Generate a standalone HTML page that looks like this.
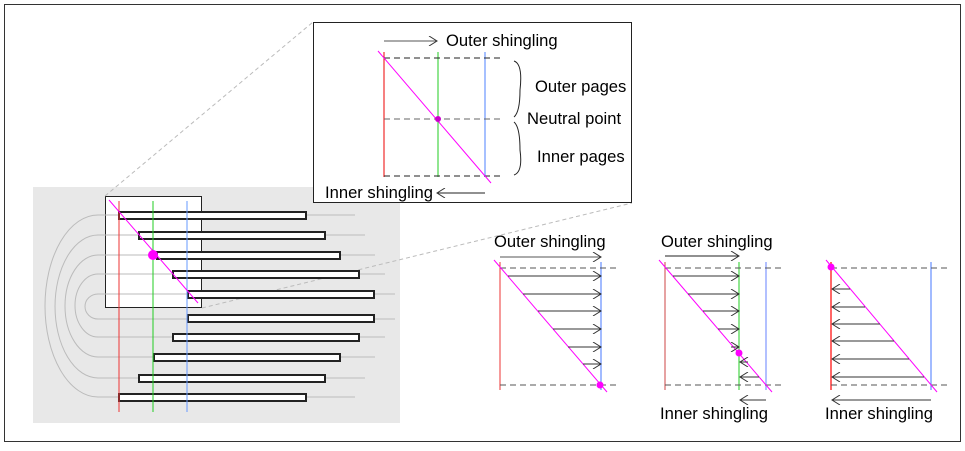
<!DOCTYPE html>
<html><head><meta charset="utf-8"><style>
body{margin:0;background:#fff}
text{font-family:"Liberation Sans",sans-serif;font-size:16.6px;fill:#000}
</style></head><body>
<svg width="965" height="446" viewBox="0 0 965 446">
<defs>
<marker id="ah" markerWidth="10" markerHeight="10" refX="9" refY="5" orient="auto" markerUnits="userSpaceOnUse">
<polyline points="1,0 9,5 1,10" fill="none" stroke="#333" stroke-width="1"/>
</marker>
</defs>
<rect x="4.5" y="4.5" width="956" height="437" fill="#fff" stroke="#333"/>
<rect x="33" y="187" width="367" height="236" fill="#e8e8e8"/>
<rect x="105.5" y="196.5" width="96" height="111" fill="#fff" stroke="#222"/>
<line x1="105" y1="196" x2="313" y2="22" stroke="#bbb" stroke-dasharray="4,3"/>
<line x1="202" y1="308" x2="632" y2="203" stroke="#bbb" stroke-dasharray="4,3"/>
<g fill="none" stroke="#bbb" stroke-width="1">
<path d="M188 294 H98 A13 12.5 0 0 0 98 319 H188"/>
<path d="M173 274 H98 A23 31.5 0 0 0 98 337 H173"/>
<path d="M155 255 H98 A33 51 0 0 0 98 357 H154"/>
<path d="M139 235 H98 A43 71.5 0 0 0 98 378 H139"/>
<path d="M119 215 H98 A53 91 0 0 0 98 397 H119"/>
<path d="M306 215H355M325 235H365M340 255H375M359 274H385M374 294H395M374 319H395M359 337H385M340 357H375M325 378H365M306 397H355"/>
</g>
<g fill="#fff" stroke="#222" stroke-width="2">
<rect x="119" y="212" width="187" height="7"/><rect x="139" y="232" width="186" height="7"/>
<rect x="157" y="252" width="183" height="7"/><rect x="173" y="271" width="186" height="7"/>
<rect x="188" y="291" width="186" height="7"/><rect x="188" y="315" width="186" height="7"/>
<rect x="173" y="334" width="186" height="7"/><rect x="154" y="354" width="186" height="7"/>
<rect x="139" y="375" width="186" height="7"/><rect x="119" y="394" width="187" height="7"/>
</g>
<line x1="119" y1="201" x2="119" y2="412" stroke="#e33"/>
<line x1="153" y1="201" x2="153" y2="412" stroke="#2c2"/>
<line x1="187" y1="201" x2="187" y2="412" stroke="#69f"/>
<line x1="109" y1="200" x2="198" y2="303" stroke="#f0f"/>
<circle cx="153" cy="255" r="5" fill="#f0f"/>

<g>
<rect x="313.5" y="22.5" width="318" height="180" fill="#fff" stroke="#222"/>
<line x1="384" y1="41" x2="437" y2="41" stroke="#555" marker-end="url(#ah)"/>
<text x="446" y="46">Outer shingling</text>
<line x1="384" y1="52" x2="384" y2="177" stroke="#e00"/>
<line x1="438" y1="52" x2="438" y2="177" stroke="#2c2"/>
<line x1="485" y1="52" x2="485" y2="177" stroke="#8af" stroke-width="1.5"/>
<g stroke-dasharray="6,4" stroke="#222"><line x1="384" y1="58" x2="500" y2="58"/><line x1="384" y1="119" x2="500" y2="119" stroke="#666"/><line x1="384" y1="176" x2="500" y2="176"/></g>
<line x1="378" y1="51" x2="491" y2="183" stroke="#f0f"/>
<circle cx="438" cy="119" r="3" fill="#c0c"/>
<path d="M514 61 Q523 64 520 90 Q520 112 514 117 M514 122 Q520 127 520 150 Q523 172 514 175" fill="none" stroke="#222"/>
<text x="535" y="92">Outer pages</text>
<text x="527" y="124">Neutral point</text>
<text x="537" y="162">Inner pages</text>
<text x="325" y="198">Inner shingling</text>
<line x1="485" y1="193" x2="437" y2="193" stroke="#222" marker-end="url(#ah)"/>
</g>

<g>
<text x="494" y="247">Outer shingling</text>
<line x1="500" y1="257" x2="601" y2="257" stroke="#555" marker-end="url(#ah)"/>
<line x1="500" y1="262" x2="500" y2="390" stroke="#e33"/>
<line x1="601" y1="262" x2="601" y2="390" stroke="#47f"/>
<g stroke-dasharray="6,4" stroke="#555"><line x1="500" y1="268" x2="616" y2="268"/><line x1="500" y1="385" x2="616" y2="385"/></g>
<line x1="494" y1="260" x2="607" y2="392" stroke="#f0f"/>
<g stroke="#333" marker-end="url(#ah)"><line x1="508" y1="276" x2="601" y2="276"/><line x1="523" y1="294" x2="601" y2="294"/><line x1="538" y1="311" x2="601" y2="311"/><line x1="553" y1="329" x2="601" y2="329"/><line x1="568" y1="347" x2="601" y2="347"/><line x1="583" y1="364" x2="601" y2="364"/></g>
<circle cx="600" cy="385" r="3.5" fill="#f0f"/>
</g>

<g>
<text x="661" y="247">Outer shingling</text>
<line x1="665" y1="256" x2="739" y2="256" stroke="#222" marker-end="url(#ah)"/>
<line x1="665" y1="262" x2="665" y2="390" stroke="#c44"/>
<line x1="739" y1="262" x2="739" y2="390" stroke="#2c2"/>
<line x1="766" y1="262" x2="766" y2="390" stroke="#9af" stroke-width="1.5"/>
<g stroke-dasharray="6,4" stroke="#555"><line x1="665" y1="268" x2="782" y2="268"/><line x1="665" y1="385" x2="782" y2="385"/></g>
<line x1="659" y1="260" x2="772" y2="392" stroke="#f0f"/>
<g stroke="#333" marker-end="url(#ah)"><line x1="673" y1="276" x2="739" y2="276"/><line x1="688" y1="294" x2="739" y2="294"/><line x1="703" y1="311" x2="739" y2="311"/><line x1="718" y1="329" x2="739" y2="329"/><line x1="731" y1="347" x2="739" y2="347"/><line x1="748" y1="362" x2="740" y2="362"/><line x1="759" y1="377" x2="740" y2="377"/><line x1="766" y1="400" x2="740" y2="400"/></g>
<circle cx="739" cy="353" r="3.5" fill="#f0f"/>
<text x="660" y="419">Inner shingling</text>
</g>

<g>
<line x1="831" y1="262" x2="831" y2="390" stroke="#f66" stroke-width="2"/>
<line x1="931" y1="262" x2="931" y2="390" stroke="#47f"/>
<g stroke-dasharray="6,4" stroke="#555"><line x1="831" y1="268" x2="948" y2="268"/><line x1="831" y1="385" x2="948" y2="385"/></g>
<line x1="826" y1="260" x2="937" y2="392" stroke="#f0f"/>
<g stroke="#333" marker-end="url(#ah)"><line x1="850" y1="289" x2="832" y2="289"/><line x1="865" y1="307" x2="832" y2="307"/><line x1="880" y1="324" x2="832" y2="324"/><line x1="894" y1="341" x2="832" y2="341"/><line x1="909" y1="359" x2="832" y2="359"/><line x1="924" y1="377" x2="832" y2="377"/><line x1="931" y1="400" x2="832" y2="400"/></g>
<circle cx="831" cy="267" r="3.5" fill="#f0f"/>
<text x="825" y="419">Inner shingling</text>
</g>
</svg>
</body></html>
